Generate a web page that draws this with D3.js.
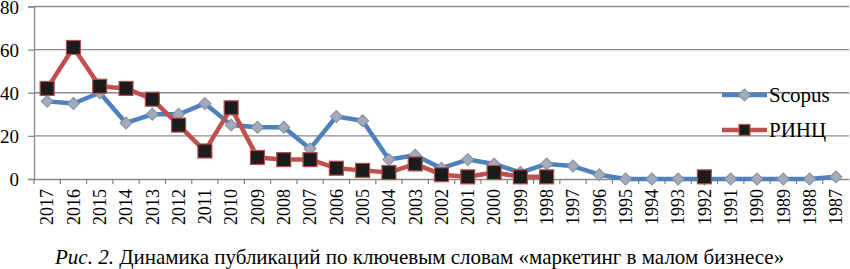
<html>
<head>
<meta charset="utf-8">
<script src="https://cdn.jsdelivr.net/npm/d3@7"></script>
<style>
  text, tspan { font-family: "Liberation Serif", "Tinos", "Times New Roman", serif !important; }
</style>
</head>
<body style="margin:0">
<svg id="chart" width="850" height="269"></svg>
<script>
// данные
const years = ["2017","2016","2015","2014","2013","2012","2011","2010","2009","2008",
  "2007","2006","2005","2004","2003","2002","2001","2000","1999","1998",
  "1997","1996","1995","1994","1993","1992","1991","1990","1989","1988","1987"];
const scopus = [36, 35, 40, 26, 30, 30, 35, 25, 24, 24,
  14, 29, 27, 9, 11, 5, 9, 7, 3, 7,
  6, 2, 0, 0, 0, 0, 0, 0, 0, 0, 1];
const rinc = [42, 61, 43, 42, 37, 25, 13, 33, 10, 9,
  9, 5, 4, 3, 7, 2, 1, 3, 1, 1,
  null, null, null, null, null, 1, null, null, null, null, null];
const yTicks = [0, 20, 40, 60, 80];
const seriesNames = ["Scopus", "РИНЦ"];
const caption = "Динамика публикаций по ключевым словам «маркетинг в малом бизнесе»";

const FONT = "Liberation Serif";

const svg = d3.select("#chart").attr("font-family", FONT);
const plot = { left: 34, right: 849, top: 6.5, bottom: 179 };

const x = d3.scaleBand().domain(years).range([plot.left, plot.right]).padding(0);
const y = d3.scaleLinear().domain([0, 80]).range([plot.bottom, plot.top]);

// сетка
svg.append("g").selectAll("line")
  .data(yTicks.filter(d => d > 0))
  .enter().append("line")
  .attr("x1", plot.left).attr("x2", plot.right)
  .attr("y1", d => y(d)).attr("y2", d => y(d))
  .attr("stroke", "#8a8a8a").attr("stroke-width", 1.3);

// ось Y
const yAxis = svg.append("g")
  .attr("transform", `translate(${plot.left},0)`)
  .call(d3.axisLeft(y).tickValues(yTicks).tickSize(6).tickPadding(9))
  .attr("font-family", FONT);
yAxis.select(".domain").attr("stroke", "#8a8a8a").attr("stroke-width", 1.3);
yAxis.selectAll(".tick line").attr("stroke", "#8a8a8a").attr("stroke-width", 1.3);
yAxis.selectAll("text")
  .attr("font-family", FONT).style("font-family", FONT)
  .attr("font-size", 19).attr("dy", "0.35em");

// ось X
const xAxis = svg.append("g")
  .attr("transform", `translate(0,${plot.bottom})`)
  .call(d3.axisBottom(x).tickSize(5).tickSizeOuter(0))
  .attr("font-family", FONT);
xAxis.select(".domain").attr("stroke", "#8a8a8a").attr("stroke-width", 1.3);
xAxis.selectAll(".tick line")
  .attr("stroke", "#8a8a8a").attr("stroke-width", 1.3)
  .attr("transform", `translate(${-x.step() / 2},0)`);
xAxis.selectAll("text")
  .attr("font-family", FONT).style("font-family", FONT).attr("font-size", 18)
  .attr("text-anchor", "end")
  .attr("transform", "rotate(-90)")
  .attr("x", -10).attr("y", 0).attr("dy", "0.35em");

// линии
const line = d3.line()
  .defined(d => d.v !== null)
  .x(d => x(d.year) + x.bandwidth() / 2)
  .y(d => y(d.v));

const scopusData = years.map((yr, i) => ({ year: yr, v: scopus[i] }));
const rincData = years.map((yr, i) => ({ year: yr, v: rinc[i] }));

const diamond = d3.symbol().type(d3.symbolSquare).size(72);

// Scopus: линия и маркеры
svg.append("path").datum(scopusData)
  .attr("d", line).attr("fill", "none")
  .attr("stroke", "#4f81bd").attr("stroke-width", 4.5).attr("stroke-linejoin", "round");
svg.append("g").selectAll("path")
  .data(scopusData)
  .enter().append("path")
  .attr("d", diamond)
  .attr("transform", d => `translate(${x(d.year) + x.bandwidth() / 2},${y(d.v)}) rotate(45)`)
  .attr("fill", "#a3aab8").attr("stroke", "#7f8fa8").attr("stroke-width", 1);

// РИНЦ: линия и маркеры
svg.append("path").datum(rincData)
  .attr("d", line).attr("fill", "none")
  .attr("stroke", "#c0504d").attr("stroke-width", 4.5).attr("stroke-linejoin", "round");
svg.append("g").selectAll("rect")
  .data(rincData.filter(d => d.v !== null))
  .enter().append("rect")
  .attr("x", d => x(d.year) + x.bandwidth() / 2 - 7)
  .attr("y", d => y(d.v) - 7)
  .attr("width", 14).attr("height", 14)
  .attr("fill", "#1c1c1c").attr("stroke", "#b5504d").attr("stroke-width", 1.2);

// легенда
const legend = svg.append("g").attr("transform", "translate(722,0)");
const legY = [95, 130];
legend.append("line").attr("x1", 0).attr("x2", 45).attr("y1", legY[0]).attr("y2", legY[0])
  .attr("stroke", "#4f81bd").attr("stroke-width", 4.5);
legend.append("path").attr("d", diamond)
  .attr("transform", `translate(22.5,${legY[0]}) rotate(45)`)
  .attr("fill", "#a3aab8").attr("stroke", "#7f8fa8").attr("stroke-width", 1);
legend.append("line").attr("x1", 0).attr("x2", 45).attr("y1", legY[1]).attr("y2", legY[1])
  .attr("stroke", "#c0504d").attr("stroke-width", 4.5);
legend.append("rect").attr("x", 17).attr("y", legY[1] - 5.5).attr("width", 11).attr("height", 11)
  .attr("fill", "#1c1c1c").attr("stroke", "#b5504d").attr("stroke-width", 1.2);
seriesNames.forEach((name, i) => {
  legend.append("text").attr("x", 47).attr("y", legY[i]).attr("dy", "0.35em")
    .attr("font-family", FONT).style("font-family", FONT).attr("font-size", 21).text(name);
});

// подпись
const cap = svg.append("text").attr("x", 55).attr("y", 264)
  .attr("font-family", FONT).style("font-family", FONT).attr("font-size", 21);
cap.append("tspan").attr("font-style", "italic").text("Рис. 2.");
cap.append("tspan").text(" " + caption);
</script>
</body>
</html>
